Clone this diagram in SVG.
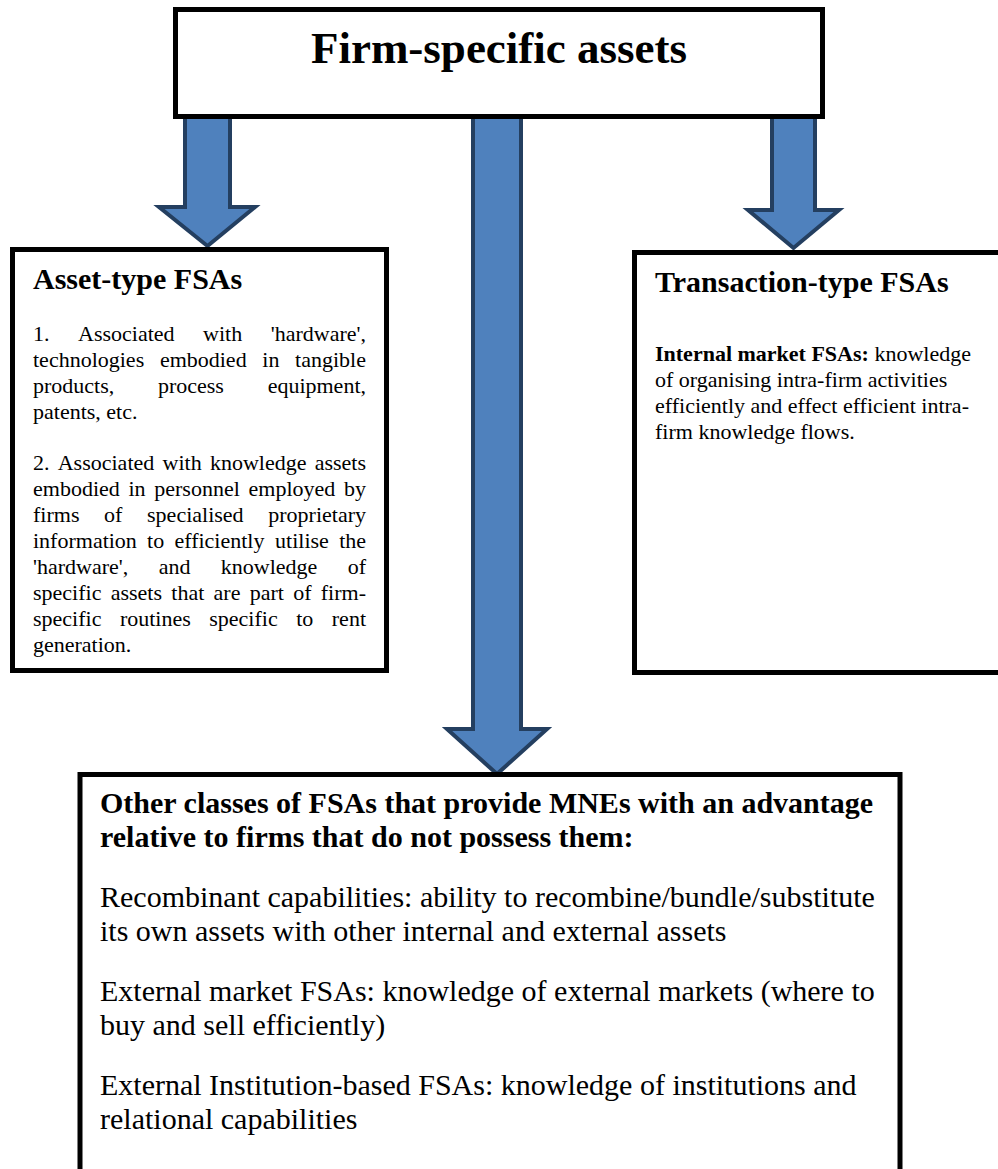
<svg xmlns="http://www.w3.org/2000/svg" width="998" height="1169" viewBox="0 0 998 1169">
<style>
.box{fill:#fff;stroke:#000;stroke-width:5}
.arrow{fill:#4F81BD;stroke:#243F60;stroke-width:4;stroke-linejoin:miter}
.t{font-family:"Liberation Serif","Times New Roman",serif;fill:#000}
.b{font-weight:bold}
.h{font-size:30px;font-weight:bold}
.s{font-size:22px}
.m{font-size:30px}
</style>
<rect width="998" height="1169" fill="#fff"/>
<g id="connectors">
<polygon class="arrow" points="185,116 230,116 230,207 255,207 207.5,246 159,207 185,207"/>
<polygon class="arrow" points="473,116 521,116 521,729 547,729 497,774 447,729 473,729"/>
<polygon class="arrow" points="772,116 815,116 815,210 839,210 793.5,248 748,210 772,210"/>
</g>
<g id="node-firm-specific-assets">
<rect class="box" x="175.5" y="9.5" width="647" height="107"/>
<text class="t b" x="499" y="63" font-size="45" text-anchor="middle">Firm-specific assets</text>
</g>
<g id="node-asset-type">
<rect class="box" x="12.5" y="249.5" width="374" height="421"/>
<text class="t h" x="33" y="289">Asset-type FSAs</text>
<text class="t s" y="341"><tspan x="33">1.</tspan><tspan x="78.03">Associated</tspan><tspan x="203.1">with</tspan><tspan x="270.75">'hardware',</tspan></text>
<text class="t s" y="367"><tspan x="33">technologies</tspan><tspan x="159.88">embodied</tspan><tspan x="262.32">in</tspan><tspan x="295.11">tangible</tspan></text>
<text class="t s" y="393"><tspan x="33">products,</tspan><tspan x="157.96">process</tspan><tspan x="267.63">equipment,</tspan></text>
<text class="t s" x="33" y="419">patents, etc.</text>
<text class="t s" y="470"><tspan x="33">2.</tspan><tspan x="57.74">Associated</tspan><tspan x="162.52">with</tspan><tspan x="209.88">knowledge</tspan><tspan x="314.66">assets</tspan></text>
<text class="t s" y="496"><tspan x="33">embodied</tspan><tspan x="128.47">in</tspan><tspan x="154.29">personnel</tspan><tspan x="248.53">employed</tspan><tspan x="344">by</tspan></text>
<text class="t s" y="522"><tspan x="33">firms</tspan><tspan x="104.09">of</tspan><tspan x="147.07">specialised</tspan><tspan x="268.26">proprietary</tspan></text>
<text class="t s" y="548"><tspan x="33">information</tspan><tspan x="147.11">to</tspan><tspan x="174.46">efficiently</tspan><tspan x="275.11">utilise</tspan><tspan x="339.13">the</tspan></text>
<text class="t s" y="574"><tspan x="33">'hardware',</tspan><tspan x="158.63">and</tspan><tspan x="220.77">knowledge</tspan><tspan x="347.68">of</tspan></text>
<text class="t s" y="600"><tspan x="33">specific</tspan><tspan x="110.69">assets</tspan><tspan x="171.29">that</tspan><tspan x="213.56">are</tspan><tspan x="249.69">part</tspan><tspan x="293.17">of</tspan><tspan x="320.77">firm-</tspan></text>
<text class="t s" y="626"><tspan x="33">specific</tspan><tspan x="119.91">routines</tspan><tspan x="209.28">specific</tspan><tspan x="296.19">to</tspan><tspan x="331.8">rent</tspan></text>
<text class="t s" x="33" y="652">generation.</text>
</g>
<g id="node-transaction-type">
<rect class="box" x="634.5" y="252.5" width="400" height="420"/>
<text class="t h" x="655" y="292">Transaction-type FSAs</text>
<text class="t s" x="655" y="361"><tspan class="b">Internal market FSAs:</tspan> knowledge</text>
<text class="t s" x="655" y="387">of organising intra-firm activities</text>
<text class="t s" x="655" y="413">efficiently and effect efficient intra-</text>
<text class="t s" x="655" y="439">firm knowledge flows.</text>
</g>
<g id="node-other-classes">
<rect class="box" x="80" y="774.5" width="820" height="500"/>
<text class="t h" x="100" y="813">Other classes of FSAs that provide MNEs with an advantage</text>
<text class="t h" x="100" y="847">relative to firms that do not possess them:</text>
<text class="t m" x="100" y="907">Recombinant capabilities: ability to recombine/bundle/substitute</text>
<text class="t m" x="100" y="941">its own assets with other internal and external assets</text>
<text class="t m" x="100" y="1001">External market FSAs: knowledge of external markets (where to</text>
<text class="t m" x="100" y="1035">buy and sell efficiently)</text>
<text class="t m" x="100" y="1095">External Institution-based FSAs: knowledge of institutions and</text>
<text class="t m" x="100" y="1129">relational capabilities</text>
</g>
</svg>
